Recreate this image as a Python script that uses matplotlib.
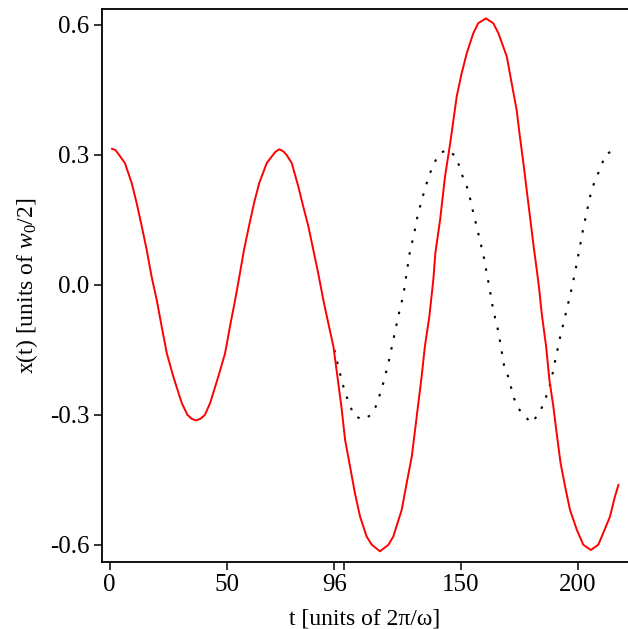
import matplotlib
matplotlib.use('Agg')
import matplotlib.pyplot as plt

plt.rcParams['font.family'] = ['Liberation Serif', 'DejaVu Serif']
plt.rcParams['mathtext.fontset'] = 'custom'
plt.rcParams['mathtext.rm'] = 'Liberation Serif'
plt.rcParams['mathtext.it'] = 'Liberation Serif:italic'
plt.rcParams['axes.unicode_minus'] = False

# trapped particle trajectory (red)
t_red = [1.0, 2.5, 4.0, 6.5, 9.4, 11.5, 13.7, 15.8, 17.9, 20.1, 22.2, 24.4, 27.2, 30.8,
         33.2, 35.0, 36.9, 38.8, 40.7, 42.9, 46.4, 49.3, 51.4, 53.6, 55.4, 57.4, 59.5,
         61.7, 63.9, 67.1, 69.2, 70.8, 72.5, 74.2, 75.6, 77.8, 80.6, 82.7, 84.9, 87.0,
         89.1, 91.3, 93.4, 95.6, 97.4, 99.1, 100.6, 102.7, 104.8, 107.0, 109.8, 112.0,
         115.5, 119.1, 121.2, 124.8, 126.9, 129.1, 130.5, 131.9, 133.3, 134.7, 136.6,
         138.3, 139.2, 141.2, 143.3, 145.6, 148.3, 150.4, 152.6, 155.4, 157.5,
         160.8, 163.9, 166.1, 169.7, 171.8, 173.9, 175.3, 176.8, 178.2, 179.6,
         181.0, 182.5, 183.6, 184.6, 186.5, 187.9, 189.6, 191.0, 192.7, 194.6,
         196.7, 199.6, 202.4, 205.6, 208.8, 210.9, 213.8, 215.9, 217.4]
x_red = [0.314, 0.311, 0.300, 0.281, 0.235, 0.189, 0.135, 0.081, 0.019, -0.035, -0.096,
         -0.158, -0.212, -0.273, -0.300, -0.309, -0.313, -0.309, -0.300, -0.273, -0.212,
         -0.158, -0.096, -0.035, 0.019, 0.081, 0.135, 0.189, 0.235, 0.281, 0.296,
         0.307, 0.313, 0.308, 0.300, 0.281, 0.227, 0.181, 0.135, 0.081, 0.027, -0.035,
         -0.088, -0.142, -0.215, -0.285, -0.358, -0.419, -0.481, -0.535, -0.581,
         -0.600, -0.615, -0.600, -0.581, -0.519, -0.458, -0.396, -0.335, -0.273,
         -0.212, -0.142, -0.073, 0.012, 0.075, 0.150, 0.250, 0.330, 0.435, 0.488,
         0.535, 0.581, 0.604, 0.615, 0.604, 0.581, 0.527, 0.465, 0.404, 0.342,
         0.281, 0.219, 0.158, 0.096, 0.035, -0.012, -0.065, -0.142, -0.219, -0.281,
         -0.342, -0.412, -0.465, -0.519, -0.565, -0.600, -0.612, -0.600, -0.573,
         -0.535, -0.489, -0.462]

# unperturbed continuation (dotted)
t_free = [96.0, 97.0, 98.4, 100.6, 102.7, 104.1, 108.1, 111.7, 114.1, 116.9, 119.1,
          121.2, 123.3, 125.5, 126.9, 128.3, 130.0, 131.2, 133.3, 135.5, 136.9,
          138.6, 141.2, 144.3, 148.0, 151.1, 153.2, 155.1, 157.5, 159.7, 162.2,
          163.9, 166.1, 168.5, 170.3, 172.8, 174.6, 177.5, 180.3, 183.5, 185.6,
          187.0, 188.6, 190.3, 192.4, 194.6, 197.0, 198.8, 200.7, 202.4, 205.3,
          207.0, 208.8, 210.5, 212.0, 216.4, 217.5]
x_free = [-0.150, -0.173, -0.204, -0.250, -0.277, -0.300, -0.312, -0.300, -0.277,
          -0.227, -0.181, -0.127, -0.073, -0.023, 0.027, 0.077, 0.115, 0.150, 0.195,
          0.235, 0.258, 0.281, 0.304, 0.312, 0.296, 0.246, 0.219, 0.173, 0.119,
          0.069, -0.004, -0.058, -0.108, -0.185, -0.212, -0.262, -0.285, -0.304,
          -0.319, -0.296, -0.273, -0.250, -0.223, -0.177, -0.123, -0.073, -0.019,
          0.027, 0.081, 0.131, 0.204, 0.235, 0.258, 0.281, 0.302, 0.312, 0.315]

xticks = [0, 50, 96, 100, 150, 200]
xticklabels = ['0', '50', '96', '', '150', '200']
yticks = [-0.6, -0.3, 0.0, 0.3, 0.6]
yticklabels = ['-0.6', '-0.3', '0.0', '0.3', '0.6']

fig = plt.figure(figsize=(6.28, 6.29), dpi=100)
ax = fig.add_axes([0.1624, 0.1070, 0.8376, 0.8782])

ax.plot(t_free, x_free, color='black', lw=1.5, linestyle=(0, (1.2, 4.6)),
        dash_capstyle='butt')
ax.plot(t_red, x_red, color='#ff0000', lw=1.4)

ax.set_xlim(-3.3, 221.5)
ax.set_ylim(-0.639, 0.636)
ax.set_xticks(xticks)
ax.set_xticklabels(xticklabels)
ax.set_yticks(yticks)
ax.set_yticklabels(yticklabels)

ax.spines['right'].set_visible(False)
for s in ['left', 'bottom', 'top']:
    ax.spines[s].set_linewidth(1.3)
ax.tick_params(direction='out', length=6, width=1.1, labelsize=18, pad=3)

ax.set_xlabel('t [units of 2\u03c0/\u03c9]', fontsize=17, labelpad=9)
ax.set_ylabel('x(t) [units of $w_0$/2]', fontsize=17, labelpad=7)

fig.savefig('out.png', dpi=100)
